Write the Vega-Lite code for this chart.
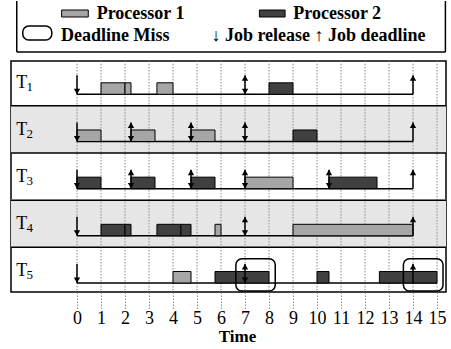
{
  "$schema": "https://vega.github.io/schema/vega-lite/v6.json",
  "padding": {"left": 9, "top": 0, "right": 5, "bottom": 0},
  "spacing": 6,
  "config": {"font": "Liberation Serif", "view": {"stroke": null}},
  "datasets": {
    "legendbox": [
      {"x": -2.51, "x2": -2.51, "y": 1, "y2": 52},
      {"x": 15.35, "x2": 15.35, "y": 1, "y2": 52},
      {"x": -2.51, "x2": 15.35, "y": 52, "y2": 52}
    ],
    "legend": [
      {"item": "swatch", "proc": "Processor 1", "x": -0.64, "x2": 0.47, "y": 10, "y2": 17},
      {"item": "swatch", "proc": "Processor 2", "x": 7.6, "x2": 8.67, "y": 10, "y2": 17},
      {"item": "miss", "x": -2.26, "x2": -1.05, "y": 26, "y2": 40},
      {"item": "text", "label": "Processor 1", "x": 0.82, "y": 19},
      {"item": "text", "label": "Processor 2", "x": 9.01, "y": 19},
      {"item": "text", "label": "Deadline Miss", "x": -0.67, "y": 41},
      {"item": "text", "label": "↓ Job release ↑ Job deadline", "x": 5.6, "y": 41}
    ],
    "tasks": [
      {"task": "T1", "row": 1, "sub": "1", "start": 0, "end": 14},
      {"task": "T2", "row": 2, "sub": "2", "start": 0, "end": 14},
      {"task": "T3", "row": 3, "sub": "3", "start": 0, "end": 14},
      {"task": "T4", "row": 4, "sub": "4", "start": 0, "end": 14},
      {"task": "T5", "row": 5, "sub": "5", "start": 0, "end": 15}
    ],
    "ticks": [
      {"t": 0}, {"t": 1}, {"t": 2}, {"t": 3}, {"t": 4}, {"t": 5}, {"t": 6}, {"t": 7},
      {"t": 8}, {"t": 9}, {"t": 10}, {"t": 11}, {"t": 12}, {"t": 13}, {"t": 14}, {"t": 15}
    ],
    "jobs": [
      {"row": 1, "proc": "Processor 1", "start": 1, "end": 2},
      {"row": 1, "proc": "Processor 1", "start": 2, "end": 2.25},
      {"row": 1, "proc": "Processor 1", "start": 3.33, "end": 4},
      {"row": 1, "proc": "Processor 2", "start": 8, "end": 9},
      {"row": 2, "proc": "Processor 1", "start": 0, "end": 1},
      {"row": 2, "proc": "Processor 1", "start": 2.25, "end": 3.25},
      {"row": 2, "proc": "Processor 1", "start": 4.75, "end": 5.75},
      {"row": 2, "proc": "Processor 2", "start": 9, "end": 10},
      {"row": 3, "proc": "Processor 2", "start": 0, "end": 1},
      {"row": 3, "proc": "Processor 2", "start": 2.25, "end": 3.25},
      {"row": 3, "proc": "Processor 2", "start": 4.75, "end": 5.75},
      {"row": 3, "proc": "Processor 1", "start": 7, "end": 9},
      {"row": 3, "proc": "Processor 2", "start": 10.5, "end": 12.5},
      {"row": 4, "proc": "Processor 2", "start": 1, "end": 2},
      {"row": 4, "proc": "Processor 2", "start": 2, "end": 2.25},
      {"row": 4, "proc": "Processor 2", "start": 3.33, "end": 4.33},
      {"row": 4, "proc": "Processor 2", "start": 4.33, "end": 4.75},
      {"row": 4, "proc": "Processor 1", "start": 5.75, "end": 6},
      {"row": 4, "proc": "Processor 1", "start": 9, "end": 14},
      {"row": 5, "proc": "Processor 1", "start": 4, "end": 4.75},
      {"row": 5, "proc": "Processor 2", "start": 5.75, "end": 8},
      {"row": 5, "proc": "Processor 2", "start": 10, "end": 10.5},
      {"row": 5, "proc": "Processor 2", "start": 12.6, "end": 15}
    ],
    "events": [
      {"row": 1, "t": 0, "kind": "release"},
      {"row": 1, "t": 7, "kind": "both"},
      {"row": 1, "t": 14, "kind": "deadline"},
      {"row": 2, "t": 0, "kind": "release"},
      {"row": 2, "t": 2.25, "kind": "both"},
      {"row": 2, "t": 4.75, "kind": "both"},
      {"row": 2, "t": 7, "kind": "both"},
      {"row": 2, "t": 14, "kind": "deadline"},
      {"row": 3, "t": 0, "kind": "release"},
      {"row": 3, "t": 2.25, "kind": "both"},
      {"row": 3, "t": 4.75, "kind": "both"},
      {"row": 3, "t": 7, "kind": "both"},
      {"row": 3, "t": 10.5, "kind": "both"},
      {"row": 3, "t": 14, "kind": "deadline"},
      {"row": 4, "t": 0, "kind": "release"},
      {"row": 4, "t": 7, "kind": "both"},
      {"row": 4, "t": 14, "kind": "deadline"},
      {"row": 5, "t": 0, "kind": "release"},
      {"row": 5, "t": 7, "kind": "both"},
      {"row": 5, "t": 14, "kind": "deadline"}
    ],
    "misses": [
      {"row": 5, "start": 6.62, "end": 8.26},
      {"row": 5, "start": 13.6, "end": 15.25}
    ]
  },
  "vconcat": [
    {
      "width": 435,
      "height": 53,
      "layer": [
        {
          "data": {"name": "legendbox"},
          "mark": {"type": "rule", "color": "black", "strokeWidth": 1.5},
          "encoding": {
            "x": {"field": "x", "type": "quantitative", "scale": {"domain": [-2.75, 15.375], "nice": false, "zero": false}, "axis": null},
            "x2": {"field": "x2"},
            "y": {"field": "y", "type": "quantitative", "scale": {"domain": [0, 53], "reverse": true, "nice": false, "zero": false}, "axis": null},
            "y2": {"field": "y2"}
          }
        },
        {
          "data": {"name": "legend"},
          "transform": [{"filter": "datum.item === 'swatch'"}],
          "mark": {"type": "rect", "stroke": "black", "strokeWidth": 1},
          "encoding": {
            "x": {"field": "x", "type": "quantitative", "axis": null},
            "x2": {"field": "x2"},
            "y": {"field": "y", "type": "quantitative", "axis": null},
            "y2": {"field": "y2"},
            "color": {"field": "proc", "type": "nominal", "scale": {"domain": ["Processor 1", "Processor 2"], "range": ["#a6a6a6", "#404040"]}, "legend": null}
          }
        },
        {
          "data": {"name": "legend"},
          "transform": [{"filter": "datum.item === 'miss'"}],
          "mark": {"type": "rect", "filled": false, "stroke": "black", "strokeWidth": 1.5, "cornerRadius": 6},
          "encoding": {
            "x": {"field": "x", "type": "quantitative", "axis": null},
            "x2": {"field": "x2"},
            "y": {"field": "y", "type": "quantitative", "axis": null},
            "y2": {"field": "y2"}
          }
        },
        {
          "data": {"name": "legend"},
          "transform": [{"filter": "datum.item === 'text'"}],
          "mark": {"type": "text", "align": "left", "baseline": "alphabetic", "fontSize": 18, "fontWeight": "bold", "color": "black"},
          "encoding": {
            "x": {"field": "x", "type": "quantitative", "axis": null},
            "y": {"field": "y", "type": "quantitative", "axis": null},
            "text": {"field": "label"}
          }
        }
      ]
    },
    {
      "width": 435,
      "height": 231,
      "view": {"stroke": "black", "strokeWidth": 1.5},
      "encoding": {
        "x": {
          "type": "quantitative",
          "scale": {"domain": [-2.75, 15.375], "nice": false, "zero": false},
          "axis": {
            "values": [0, 1, 2, 3, 4, 5, 6, 7, 8, 9, 10, 11, 12, 13, 14, 15],
            "format": "d",
            "title": "Time",
            "titleFontSize": 17,
            "titleFontWeight": "bold",
            "titleColor": "black",
            "titlePadding": 1,
            "titleX": 226,
            "labelFontSize": 18,
            "labelColor": "black",
            "labelPadding": 0,
            "labelFlush": false,
            "labelOverlap": false,
            "domain": false,
            "grid": false,
            "ticks": true,
            "tickSize": 17,
            "tickColor": "#8c8c8c",
            "tickWidth": 1,
            "tickDash": [1.5, 1.5]
          }
        },
        "y": {
          "type": "quantitative",
          "scale": {"domain": [0.294, 5.191], "reverse": true, "nice": false, "zero": false},
          "axis": null
        }
      },
      "layer": [
        {
          "data": {"name": "tasks"},
          "transform": [{"filter": {"field": "row", "oneOf": [2, 4]}}],
          "mark": {"type": "rect", "fill": "#e6e6e6", "yOffset": -36.5, "y2Offset": 11.5},
          "encoding": {
            "y": {"field": "row"},
            "y2": {"field": "row"}
          }
        },
        {
          "data": {"name": "ticks"},
          "mark": {"type": "rule", "color": "#8c8c8c", "strokeWidth": 1, "strokeDash": [1.5, 1.5]},
          "encoding": {
            "x": {"field": "t"}
          }
        },
        {
          "data": {"name": "tasks"},
          "transform": [{"filter": "datum.row < 5"}],
          "mark": {"type": "rule", "color": "black", "strokeWidth": 1.5, "yOffset": 11.5},
          "encoding": {
            "y": {"field": "row"}
          }
        },
        {
          "data": {"name": "tasks"},
          "mark": {"type": "rule", "color": "black", "strokeWidth": 1.5},
          "encoding": {
            "x": {"field": "start"},
            "x2": {"field": "end"},
            "y": {"field": "row"}
          }
        },
        {
          "data": {"name": "jobs"},
          "mark": {"type": "rect", "stroke": "black", "strokeWidth": 1, "yOffset": -11.5},
          "encoding": {
            "x": {"field": "start"},
            "x2": {"field": "end"},
            "y": {"field": "row"},
            "y2": {"field": "row"},
            "color": {"field": "proc", "type": "nominal", "legend": null}
          }
        },
        {
          "data": {"name": "events"},
          "mark": {"type": "rule", "color": "black", "strokeWidth": 1.5, "yOffset": -19},
          "encoding": {
            "x": {"field": "t"},
            "y": {"field": "row"},
            "y2": {"field": "row"}
          }
        },
        {
          "data": {"name": "events"},
          "transform": [{"filter": {"field": "kind", "oneOf": ["release", "both"]}}],
          "mark": {"type": "point", "shape": "triangle-down", "filled": true, "color": "black", "opacity": 1, "size": 40, "yOffset": -2.8},
          "encoding": {
            "x": {"field": "t"},
            "y": {"field": "row"}
          }
        },
        {
          "data": {"name": "events"},
          "transform": [{"filter": {"field": "kind", "oneOf": ["deadline", "both"]}}],
          "mark": {"type": "point", "shape": "triangle-up", "filled": true, "color": "black", "opacity": 1, "size": 40, "yOffset": -16.2},
          "encoding": {
            "x": {"field": "t"},
            "y": {"field": "row"}
          }
        },
        {
          "data": {"name": "misses"},
          "mark": {"type": "rect", "filled": false, "stroke": "black", "strokeWidth": 1.5, "cornerRadius": 6, "yOffset": -24.3, "y2Offset": 8},
          "encoding": {
            "x": {"field": "start"},
            "x2": {"field": "end"},
            "y": {"field": "row"},
            "y2": {"field": "row"}
          }
        },
        {
          "data": {"name": "tasks"},
          "mark": {"type": "text", "text": "T", "align": "left", "baseline": "alphabetic", "fontSize": 18, "color": "black", "yOffset": -6.5},
          "encoding": {
            "x": {"datum": -2.53},
            "y": {"field": "row"}
          }
        },
        {
          "data": {"name": "tasks"},
          "mark": {"type": "text", "align": "left", "baseline": "alphabetic", "fontSize": 13, "color": "black", "yOffset": -3.5},
          "encoding": {
            "x": {"datum": -2.1},
            "y": {"field": "row"},
            "text": {"field": "sub"}
          }
        }
      ]
    }
  ]
}
